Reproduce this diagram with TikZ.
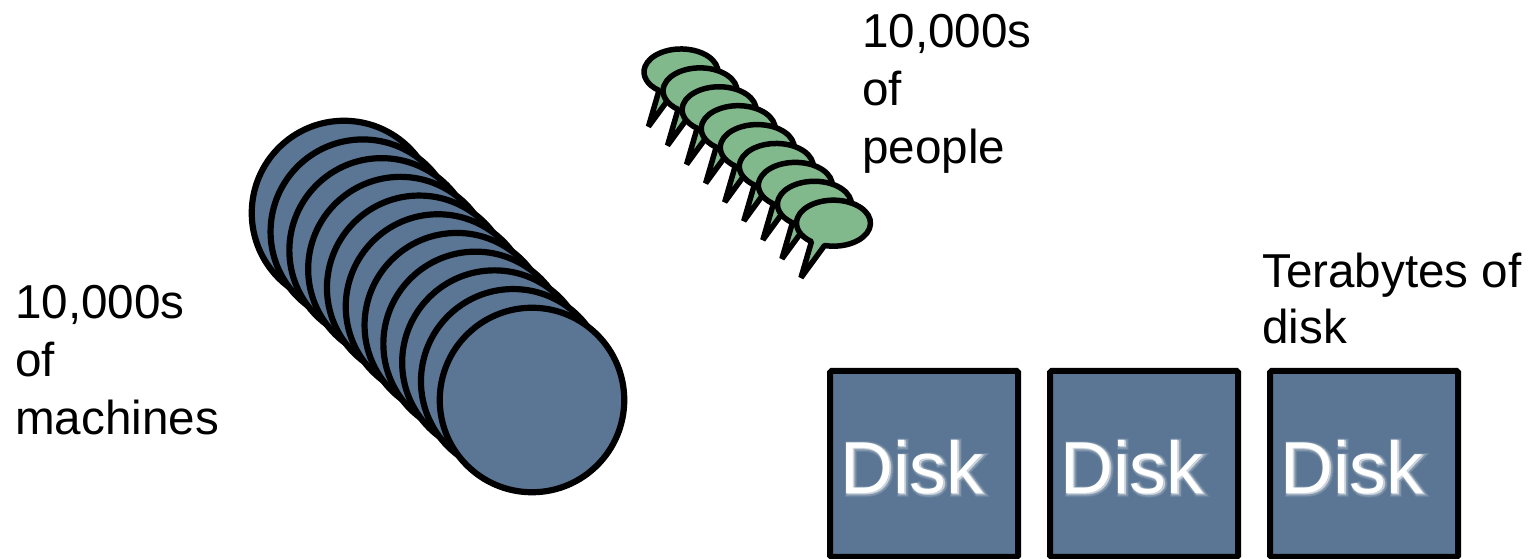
\documentclass[tikz,border=0pt]{standalone}
\usepackage{fontspec}
\setmainfont{Liberation Sans}
\newfontfamily\glowwide[FakeBold=7]{Liberation Sans}
\newfontfamily\glowmid[FakeBold=4.5]{Liberation Sans}
\newfontfamily\glownarrow[FakeBold=2]{Liberation Sans}
\usetikzlibrary{calc}
\definecolor{slateblue}{RGB}{90,118,148}
\definecolor{bubblegreen}{RGB}{130,185,140}
\tikzset{
  x=1pt,y=1pt,
  machine/.style={circle,draw=black,fill=slateblue,line width=6.2pt,minimum size=184.5pt,inner sep=0pt,outer sep=0pt},
  disk/.style={rectangle,draw=black,fill=slateblue,line width=6pt,rounded corners=1.5pt,minimum width=188pt,minimum height=186pt,inner sep=0pt,outer sep=0pt,anchor=north west},
  caption/.style={font=\fontsize{47.6}{58}\selectfont,align=left,inner sep=0pt,anchor=north west,text=black},
  disklabel/.style={font=\fontsize{73.5}{73.5}\selectfont,inner sep=0pt,text=white},
  halo/.style={inner sep=0pt,text=white},
  bubble/.pic={
    \draw[fill=bubblegreen,draw=black,line width=5.5pt,line join=bevel]
      (-8.95,-22.3) arc[start angle=256,end angle=593.5,x radius=37,y radius=23]
      -- (-32.5,-54.5) -- cycle;
  }
}
\newcommand{\glowdisk}[2]{%
  \node[halo,text opacity=.10,font=\glowwide\fontsize{73.5}{73.5}\selectfont] (#1a) at ($(#2)+(1,-1)$) {Disk};
  \node[halo,text opacity=.16,font=\glowmid\fontsize{73.5}{73.5}\selectfont] (#1b) at ($(#2)+(1,-1)$) {Disk};
  \node[halo,text opacity=.30,font=\glownarrow\fontsize{73.5}{73.5}\selectfont] (#1c) at ($(#2)+(.5,-.5)$) {Disk};
  \node[disklabel] (#1t) at (#2) {Disk};
}
\begin{document}
\begin{tikzpicture}
\useasboundingbox (0,0) rectangle (1531,559);
% machines
\foreach \i in {0,...,10}{
  \node[machine] (m\i) at ({344+18.8*\i},{346-18.7*\i}) {};
}
% people
\foreach \i in {0,...,8}{
  \pic (b\i) at ({681+19.06*\i},{487-18.9*\i}) {bubble};
}
% disks
\node[disk] (d1) at (830,188) {};
\node[disk] (d2) at (1050,188) {};
\node[disk] (d3) at (1270,188) {};
\coordinate (c1) at (912,92);
\coordinate (c2) at (1132,92);
\coordinate (c3) at (1352,92);
\glowdisk{d1}{c1}
\glowdisk{d2}{c2}
\glowdisk{d3}{c3}
% captions
\node[caption] (tm) at (15,273.5) {10,000s\\of\\machines};
\node[caption] (tp) at (862,545) {10,000s\\of\\people};
\node[caption] (td) at (1262,306) {Terabytes of\\[-2pt]disk};
\end{tikzpicture}
\end{document}
